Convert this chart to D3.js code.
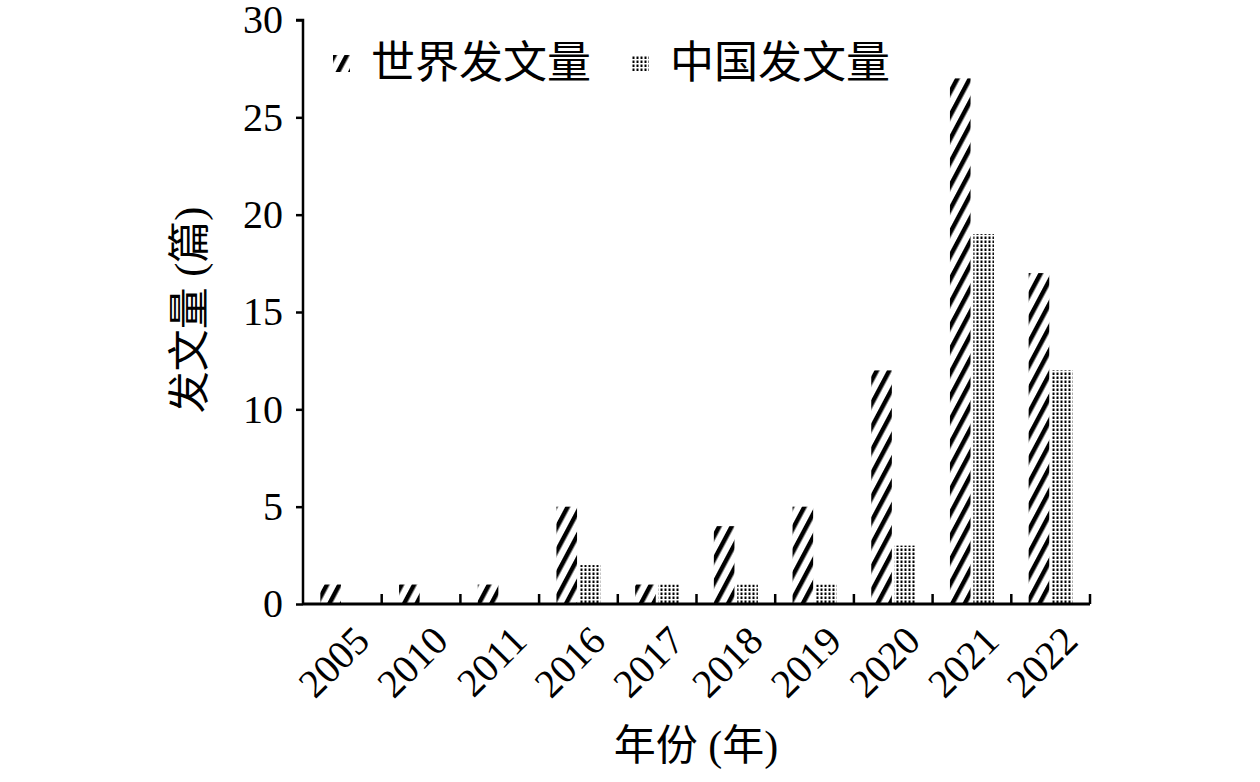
<!DOCTYPE html>
<html><head><meta charset="utf-8">
<script src="https://cdn.jsdelivr.net/npm/d3@7/dist/d3.min.js"></script>
<style>body{margin:0;background:#fff}</style>
</head><body>
<svg id="chart" width="1260" height="782"></svg>
<script>
const years = ["2005","2010","2011","2016","2017","2018","2019","2020","2021","2022"];
const worldValues = [1,1,1,5,1,4,5,12,27,17];
const chinaValues = [0,0,0,2,1,1,1,3,19,12];
const seriesNames = ["世界发文量","中国发文量"];
const yTicks = [0,5,10,15,20,25,30];

const svg = d3.select("#chart");
const margin = {left:303, right:170, top:20, bottom:178};
const W = 1260, H = 782;
const x0 = d3.scaleBand().domain(years).range([margin.left, W-margin.right]).paddingInner(0).paddingOuter(0);
const y = d3.scaleLinear().domain([0,30]).range([H-margin.bottom, margin.top]);
const x1 = d3.scaleBand().domain(seriesNames).range([x0.bandwidth()/2-22, x0.bandwidth()/2+22]).paddingInner(0.12);

const defs = svg.append("defs");
const ps = defs.append("pattern").attr("id","stripes").attr("patternUnits","userSpaceOnUse")
  .attr("width",11).attr("height",40).attr("patternTransform","rotate(28)");
ps.append("rect").attr("width",11).attr("height",40).attr("fill","#fff");
ps.append("rect").attr("x",0).attr("width",4.5).attr("height",40).attr("fill","#000");
const pd = defs.append("pattern").attr("id","dots").attr("patternUnits","userSpaceOnUse")
  .attr("width",4).attr("height",4);
pd.append("rect").attr("width",4).attr("height",4).attr("fill","#fff");
pd.append("rect").attr("x",0.5).attr("y",0.5).attr("width",2).attr("height",2.5).attr("fill","#000");

const fills = ["url(#stripes)","url(#dots)"];
const serif = "'Liberation Serif','Times New Roman','Noto Sans CJK SC',serif";

const data = years.map((yr,i)=>({yr, vals:[worldValues[i], chinaValues[i]]}));
const g = svg.append("g");
data.forEach(d=>{
  d.vals.forEach((v,j)=>{
    if(v<=0) return;
    g.append("rect")
      .attr("x", x0(d.yr)+x1(seriesNames[j]))
      .attr("y", y(v))
      .attr("width", x1.bandwidth())
      .attr("height", y(0)-y(v))
      .attr("fill", fills[j]);
  });
});

// Y axis
const yAxis = d3.axisLeft(y).tickValues(yTicks).tickSize(7).tickPadding(13);
const ya = svg.append("g").attr("transform",`translate(${margin.left},0)`).call(yAxis);
ya.select(".domain").attr("stroke","#000").attr("stroke-width",2.5).attr("d",`M-7,${y(30)}H0V${y(0)}`);
ya.selectAll(".tick line").attr("stroke","#000").attr("stroke-width",2.5);
ya.selectAll(".tick text").attr("font-family",serif).attr("font-size",40).attr("fill","#000");

// X axis
const xa = svg.append("g").attr("transform",`translate(0,${y(0)})`);
xa.append("line").attr("x1",margin.left).attr("x2",W-margin.right).attr("stroke","#000").attr("stroke-width",3);
const bounds = years.slice(1).map(yr=>x0(yr)).concat([W-margin.right]);
xa.selectAll("line.tk").data(bounds).join("line").attr("class","tk")
  .attr("x1",d=>d).attr("x2",d=>d).attr("y1",0).attr("y2",-10).attr("stroke","#000").attr("stroke-width",2.5);
xa.selectAll("text").data(years).join("text")
  .attr("transform",d=>`translate(${x0(d)+x0.bandwidth()/2+8},${18}) rotate(-45)`)
  .attr("text-anchor","end").attr("dy","0.75em")
  .attr("font-family",serif).attr("font-size",40).attr("fill","#000").text(d=>d);

// Axis titles
svg.append("text").attr("x",696).attr("y",760).attr("text-anchor","middle")
  .attr("font-family",serif).attr("font-size",42).attr("fill","#000").text("年份 (年)");
svg.append("text").attr("transform","translate(204,310) rotate(-90)").attr("text-anchor","middle")
  .attr("font-family",serif).attr("font-size",42).attr("fill","#000").text("发文量 (篇)");

// Legend
const leg = [{x:333, name:seriesNames[0], fill:fills[0]},{x:632, name:seriesNames[1], fill:fills[1]}];
leg.forEach(l=>{
  svg.append("rect").attr("x",l.x).attr("y",55).attr("width",17).attr("height",17).attr("fill",l.fill);
  svg.append("text").attr("x",l.x+38).attr("y",78).attr("font-family",serif).attr("font-size",44)
    .attr("fill","#000").text(l.name);
});
</script>
</body></html>
